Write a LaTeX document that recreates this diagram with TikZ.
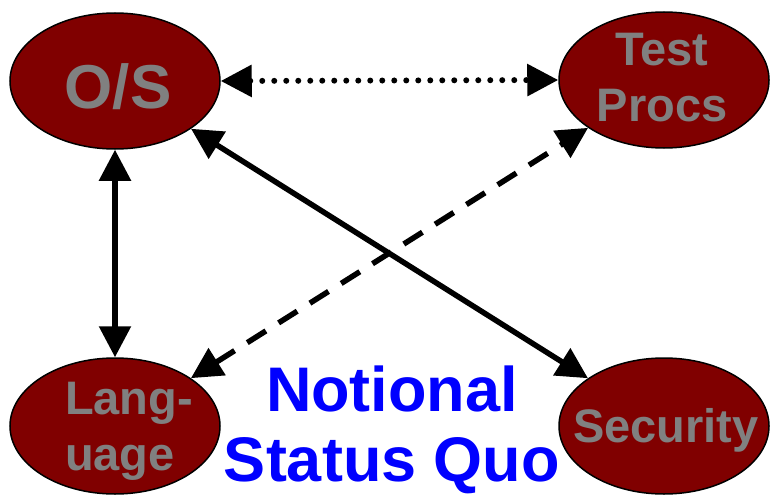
\documentclass[tikz,border=0pt]{standalone}
\usepackage{fontspec}
\setmainfont{Liberation Sans}
\usetikzlibrary{shapes.geometric,arrows.meta}
\definecolor{maroonfill}{HTML}{800000}
\definecolor{graytext}{HTML}{808080}
\definecolor{bluetext}{HTML}{0000FF}
\tikzset{
  oval/.style={ellipse, draw=black, line width=1.5pt, fill=maroonfill,
    minimum width=210pt, minimum height=136pt, inner sep=0pt},
  lbl/.style={text=graytext, font=\bfseries\fontsize{47}{56}\selectfont, inner sep=0pt},
  conn/.style={line width=5.5pt, {Triangle[length=31pt,width=31pt]}-{Triangle[length=31pt,width=31pt]}},
  dotline/.style={conn, line width=6pt, line cap=round, dash pattern=on 0pt off 12pt},
  dashline/.style={conn, dash pattern=on 22pt off 15pt},
}
\begin{document}
\begin{tikzpicture}[x=1pt,y=1pt]
\useasboundingbox (0,0) rectangle (770,-495);
\node[oval] (os) at (115,-81) {};
\node[oval] (tp) at (664,-80) {};
\node[oval] (lang) at (115,-426) {};
\node[oval] (sec) at (664,-426) {};
\node[lbl, font=\bfseries\fontsize{62}{70}\selectfont] (ost) at (118,-87) {O/S};
\node[lbl, align=center] (tpt) at (662,-78) {Test\\Procs};
\node[lbl, align=left] (langt) at (129,-431) {Lang-\\uage};
\node[lbl] (sect) at (666,-430) {Security};
\node[text=bluetext, font=\bfseries\fontsize{63}{70}\selectfont, align=center, inner sep=0pt] (nsq) at (392,-430) {Notional\\Status Quo};
\draw[dotline] (os.east) -- (tp.west);
\draw[conn] (os.south) -- (lang.north);
\draw[conn] (os) -- (sec);
\draw[dashline] (lang) -- (tp);
\end{tikzpicture}
\end{document}
